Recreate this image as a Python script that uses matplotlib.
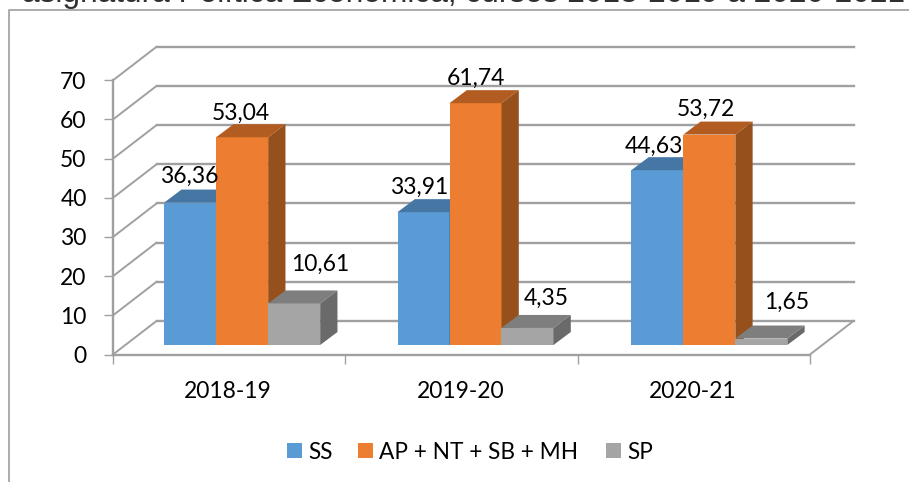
import matplotlib
matplotlib.use("Agg")
import matplotlib.pyplot as plt
from matplotlib.patches import Polygon, Rectangle
from matplotlib.transforms import Affine2D

plt.rcParams['font.family'] = ['Lato', 'DejaVu Sans']

categories = ["2018-19", "2019-20", "2020-21"]
series_names = ["SS", "AP + NT + SB + MH", "SP"]
ss = [36.36, 33.91, 44.63]
ap = [53.04, 61.74, 53.72]
sp = [10.61, 4.35, 1.65]
y_ticks = [0, 10, 20, 30, 40, 50, 60, 70]

# front, top, side colours
colors = [("#5B9BD5", "#4677A4", "#3F6C96"),
          ("#ED7D31", "#B35C21", "#96501C"),
          ("#A5A5A5", "#7E7E7E", "#6A6A6A")]
grid_col = "#A0A0A0"

W, H = 909, 482
fig = plt.figure(figsize=(W / 100, H / 100), dpi=100)

# front floor edge and front wall, in pixels of the picture
ax = fig.add_axes([113 / W, 1 - 354.5 / H, 697 / W, 274.2 / H])
ax.set_xlim(0, 3)
ax.set_ylim(0, 70)
ax.patch.set_visible(False)
for s in ["top", "right"]:
    ax.spines[s].set_visible(False)
for s in ["left", "bottom"]:
    ax.spines[s].set_color(grid_col)
    ax.spines[s].set_linewidth(1.7)
ax.set_yticks(y_ticks)
ax.set_xticks([0, 1, 2, 3])
ax.set_xticklabels([])
ax.tick_params(axis="y", length=6.5, width=1, color=grid_col, labelsize=16.5, pad=12.5)
ax.tick_params(axis="x", length=6.2, width=1, color=grid_col)

wall_dx, wall_dy = 43.5, 33.5
bar_dx = [13, 14, 15.5]
bar_dy = 9.5
depth_dx, depth_dy = 17.3, 13
bar_w = 52 / (697 / 3)

back = ax.transData + Affine2D().translate(wall_dx, wall_dy)

# back gridlines and side wall
for v in y_ticks:
    ax.plot([0, 3], [v, v], color=grid_col, lw=1.7, transform=back, clip_on=False, zorder=1)
    px = ax.transData.transform((0, v))
    ax.plot([px[0], px[0] + wall_dx], [px[1], px[1] + wall_dy], color=grid_col, lw=1.4,
            transform=None, clip_on=False, zorder=1)

p0 = ax.transData.transform((3, 0))
ax.plot([p0[0], p0[0] + wall_dx], [p0[1], p0[1] + wall_dy], color=grid_col, lw=1.4,
        transform=None, clip_on=False, zorder=1)

# category labels
for i, c in enumerate(categories):
    px = ax.transData.transform((i + 0.5, 0))
    ax.text(px[0] - 1, px[1] - 35, c, transform=None, ha="center", va="center_baseline",
            fontsize=16.5, color="black")


def draw_bar(x, v, cols, z, trans):
    # x is the left edge in data units, v the value
    ax.bar(x, v, bar_w, align="edge", color=cols[0], transform=trans, clip_on=False, zorder=z)
    a = trans.transform((x, v))
    b = trans.transform((x + bar_w, v))
    c = trans.transform((x + bar_w, 0))
    top = [a, b, (b[0] + depth_dx, b[1] + depth_dy), (a[0] + depth_dx, a[1] + depth_dy)]
    side = [b, c, (c[0] + depth_dx, c[1] + depth_dy), (b[0] + depth_dx, b[1] + depth_dy)]
    ax.add_patch(Polygon(top, closed=True, fc=cols[1], ec="none", transform=None, clip_on=False, zorder=z))
    ax.add_patch(Polygon(side, closed=True, fc=cols[2], ec="none", transform=None, clip_on=False, zorder=z))
    return a


# label offset from the middle of each bar's top front edge, in pixels
label_off = [[(-1, 28), (-1, 26), (26, 41)],
             [(-4, 27), (0, 27), (19, 32)],
             [(-3, 26), (-3, 27), (25, 38)]]

for i in range(3):
    bar_front = ax.transData + Affine2D().translate(bar_dx[i], bar_dy)
    for j, vals in enumerate([ss, ap, sp]):
        x = i + 0.5 + (j - 1.5) * bar_w
        a = draw_bar(x, vals[i], colors[j], 3 + j, bar_front)
        dx, dy = label_off[i][j]
        txt = f"{vals[i]:.2f}".replace(".", ",")
        ax.text(a[0] + 26 + dx, a[1] + dy, txt, transform=None, ha="center",
                va="center_baseline", fontsize=16.5, color="black", zorder=10)

# legend
for name, cols, bx, tx in zip(series_names, colors, [287, 358, 606], [308, 379, 627]):
    fig.add_artist(Rectangle((bx / W, 1 - 458 / H), 15 / W, 15 / H, fc=cols[0], ec="none",
                             transform=fig.transFigure))
    fig.text(tx / W, 1 - 450.5 / H, name, ha="left", va="center_baseline", fontsize=16.3, color="black")

# chart border, cut by the edge of the picture
fig.add_artist(plt.Line2D([9 / W, 9 / W, 1], [0, 1 - 10 / H, 1 - 10 / H], color="#A6A6A6", lw=1.3,
                          transform=fig.transFigure))

fig.text(463 / W, 1 - 2 / H, "asignatura Política Económica, cursos 2018-2019 a 2020-2021",
         family="Liberation Sans", fontsize=22.8, color="#303030", ha="center", va="baseline")

fig.savefig("out.png", dpi=100)
